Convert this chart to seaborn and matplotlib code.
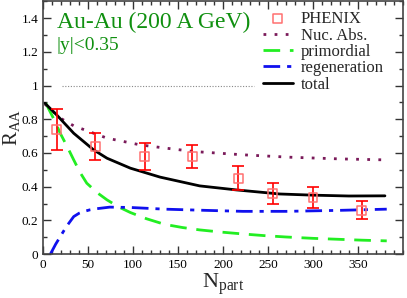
import matplotlib

matplotlib.use("Agg")
import matplotlib.pyplot as plt  # noqa: E402
import pandas as pd  # noqa: E402
import seaborn as sns  # noqa: E402
from matplotlib.ticker import FuncFormatter, MultipleLocator  # noqa: E402

# PHENIX data
npart_data = [15, 58, 113, 166, 217, 255, 300, 354]
raa_data = [0.74, 0.64, 0.58, 0.58, 0.45, 0.36, 0.335, 0.26]
raa_err = [0.12, 0.08, 0.08, 0.07, 0.07, 0.06, 0.062, 0.053]

# model curves
npart_total = [2, 15, 34, 56, 71, 97, 130, 174, 215, 263, 300, 340, 380]
raa_total = [0.895, 0.826, 0.717, 0.619, 0.569, 0.51, 0.457, 0.405, 0.381, 0.357, 0.35, 0.345, 0.346]

npart_nuc = [2, 19, 34, 71, 108, 133, 167, 223, 274, 330, 382]
raa_nuc = [0.89, 0.807, 0.761, 0.688, 0.648, 0.631, 0.609, 0.589, 0.575, 0.565, 0.559]

npart_prim = [3, 12, 19, 27, 34, 41, 48.5, 60, 71, 84, 97, 115, 135, 155, 174, 198, 222, 246, 270, 300, 330, 355, 382]
raa_prim = [0.895, 0.80, 0.717, 0.635, 0.559, 0.485, 0.421, 0.365, 0.322, 0.28, 0.247, 0.21, 0.177, 0.158, 0.144, 0.131, 0.12, 0.11, 0.102, 0.094, 0.088, 0.083, 0.079]

npart_regen = [8, 14, 19, 26, 34, 40, 45, 52, 60, 74, 97, 135, 180, 222, 270, 330, 382]
raa_regen = [0.0, 0.06, 0.104, 0.165, 0.223, 0.243, 0.253, 0.263, 0.27, 0.279, 0.277, 0.267, 0.26, 0.254, 0.254, 0.26, 0.267]

df_data = pd.DataFrame({"npart": npart_data, "raa": raa_data, "err": raa_err})
df_total = pd.DataFrame({"npart": npart_total, "raa": raa_total})
df_nuc = pd.DataFrame({"npart": npart_nuc, "raa": raa_nuc})
df_prim = pd.DataFrame({"npart": npart_prim, "raa": raa_prim})
df_regen = pd.DataFrame({"npart": npart_regen, "raa": raa_regen})

sns.set_style("ticks")
plt.rcParams["font.family"] = ["Liberation Serif", "DejaVu Serif"]
plt.rcParams["mathtext.fontset"] = "custom"
plt.rcParams["mathtext.rm"] = "Liberation Serif"
plt.rcParams["mathtext.it"] = "Liberation Serif"

fig = plt.figure(figsize=(4.07, 2.98), dpi=100)
ax = fig.add_axes([0.106, 0.147, 0.884, 0.849])

# reference line at 1
ax.plot([21, 234], [1, 1], color="#888888", lw=0.8, ls=(0, (1, 1.5)))

ax.errorbar(df_data["npart"], df_data["raa"], yerr=df_data["err"], fmt="none",
            ecolor="red", elinewidth=1.2, capsize=4, capthick=1.2, zorder=3)
sns.scatterplot(data=df_data, x="npart", y="raa", marker="s", s=40,
                facecolor="none", edgecolor="#ff7070", linewidth=1.1,
                label="PHENIX", ax=ax, zorder=4)
sns.lineplot(data=df_nuc, x="npart", y="raa", sort=False, color="#7a1a5a",
             lw=2, ls=(0, (1, 3)), label="Nuc. Abs.", ax=ax)
sns.lineplot(data=df_prim, x="npart", y="raa", sort=False, color="#22ee22",
             lw=2, ls=(0, (6, 3.5)), label="primordial", ax=ax)
sns.lineplot(data=df_regen, x="npart", y="raa", sort=False, color="#1010ee",
             lw=2, ls=(0, (6, 2.5, 1.5, 2.5)), label="regeneration", ax=ax)
sns.lineplot(data=df_total, x="npart", y="raa", sort=False, color="black",
             lw=2, label="total", ax=ax)

ax.set_xlim(0, 400)
ax.set_ylim(0, 1.5)
ax.set_xticks([0, 50, 100, 150, 200, 250, 300, 350])
ax.set_yticks([0, 0.2, 0.4, 0.6, 0.8, 1.0, 1.2, 1.4])
ax.xaxis.set_minor_locator(MultipleLocator(10))
ax.yaxis.set_minor_locator(MultipleLocator(0.1))
ax.yaxis.set_major_formatter(FuncFormatter(lambda v, p: f"{v:g}"))
ax.tick_params(which="both", direction="in", top=True, right=True,
               labelsize=9.5, colors="#333333", labelcolor="black")
ax.tick_params(which="major", length=6, width=1)
ax.tick_params(which="minor", length=3, width=1)
for s in ax.spines.values():
    s.set_linewidth(1.2)
    s.set_color("#444444")

ax.set_xlabel(r"N$_{\rm part}$", fontsize=16, labelpad=0)
ax.set_ylabel(r"R$_{\rm AA}$", fontsize=15)
ax.yaxis.set_label_coords(-0.058, 0.5)

ax.text(15, 1.34, "Au-Au (200 A GeV)", color="#109010", fontsize=17)
ax.text(15, 1.21, "|y|<0.35", color="#109010", fontsize=14)

leg = ax.legend(loc="upper right", bbox_to_anchor=(0.975, 1.0), frameon=False,
                fontsize=12, handlelength=1.8, handletextpad=0.5,
                labelspacing=0.02, borderaxespad=0.2)

fig.savefig("out.png", dpi=100)
plt.close(fig)
